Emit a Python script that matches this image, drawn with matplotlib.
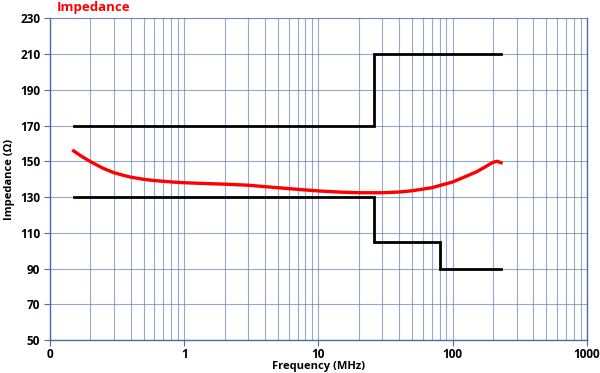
import matplotlib
matplotlib.use("Agg")
import matplotlib.pyplot as plt
from matplotlib.ticker import FixedLocator, FixedFormatter, NullFormatter

# Measured impedance curve
freq_mhz = [0.15, 0.17, 0.2, 0.25, 0.3, 0.35, 0.4, 0.5, 0.6, 0.7, 0.85, 1, 1.5, 2, 3, 4, 5, 7, 10,
            15, 20, 30, 40, 50, 70, 100, 130, 150, 170, 200, 215, 230]
impedance = [155.8, 153.0, 149.8, 146.0, 143.6, 142.2, 141.1, 139.9, 139.2, 138.8, 138.3, 138.0,
             137.5, 137.2, 136.6, 135.8, 135.2, 134.3, 133.4, 132.7, 132.4, 132.4, 132.8, 133.5,
             135.2, 138.4, 142.0, 144.0, 146.3, 149.4, 150.0, 149.2]

# Limit lines (step)
upper_freq = [0.15, 26, 26, 230]
upper_val = [170, 170, 210, 210]
lower_freq = [0.15, 26, 26, 80, 80, 230]
lower_val = [130, 130, 105, 105, 90, 90]

x_ticks = [0.1, 1, 10, 100, 1000]
x_tick_labels = ["0", "1", "10", "100", "1000"]
y_ticks = [50, 70, 90, 110, 130, 150, 170, 190, 210, 230]

plt.rcParams['font.family'] = ['Open Sans', 'DejaVu Sans']

fig = plt.figure(figsize=(6.0, 3.73), dpi=100)
ax = fig.add_axes([50/600, 1-340/373, (586.7-50)/600, (340-18.3)/373])

grid_col = '#5f7bab'
ax.set_xscale('log')
ax.set_xlim(0.1, 1000)
ax.set_ylim(50, 230)

minor = [m * 10.0**e for e in range(-1, 3) for m in range(2, 10)]
ax.xaxis.set_major_locator(FixedLocator(x_ticks))
ax.xaxis.set_major_formatter(FixedFormatter(x_tick_labels))
ax.xaxis.set_minor_locator(FixedLocator(minor))
ax.xaxis.set_minor_formatter(NullFormatter())
ax.set_yticks(y_ticks)

ax.grid(True, which='major', axis='both', color=grid_col, linewidth=0.8, alpha=0.65)
ax.grid(True, which='minor', axis='x', color=grid_col, linewidth=0.8, alpha=0.65)
ax.set_axisbelow(True)

ax.plot(upper_freq, upper_val, color='black', linewidth=2.0, solid_joinstyle='miter')
ax.plot(lower_freq, lower_val, color='black', linewidth=2.0, solid_joinstyle='miter')
ax.plot(freq_mhz, impedance, color='#ff0000', linewidth=2.4)

spine_col = '#4a6fa5'
for s in ['left', 'bottom', 'right']:
    ax.spines[s].set_color(spine_col)
    ax.spines[s].set_linewidth(1.0)
ax.spines['top'].set_color(grid_col)
ax.spines['top'].set_linewidth(0.8)
ax.spines['top'].set_alpha(0.65)

ax.tick_params(axis='both', which='major', direction='out', length=4, color=spine_col,
               labelsize=8.5, pad=3)
ax.tick_params(axis='x', which='major', pad=2)
ax.tick_params(axis='x', which='minor', length=0)
for lab in ax.get_xticklabels() + ax.get_yticklabels():
    lab.set_fontweight('bold')

ax.set_xlabel('Frequency (MHz)', fontsize=8, fontweight='bold', va='center')
ax.xaxis.set_label_coords(0.5, -(367 - 340) / (340 - 18.3))
ax.set_ylabel('Impedance (Ω)', fontsize=8, fontweight='bold', labelpad=4)
fig.text(57/600, 1-8/373, 'Impedance', color='#ff0000', fontsize=9.5, fontweight='bold',
         ha='left', va='center')

fig.savefig('out.png', dpi=100)
